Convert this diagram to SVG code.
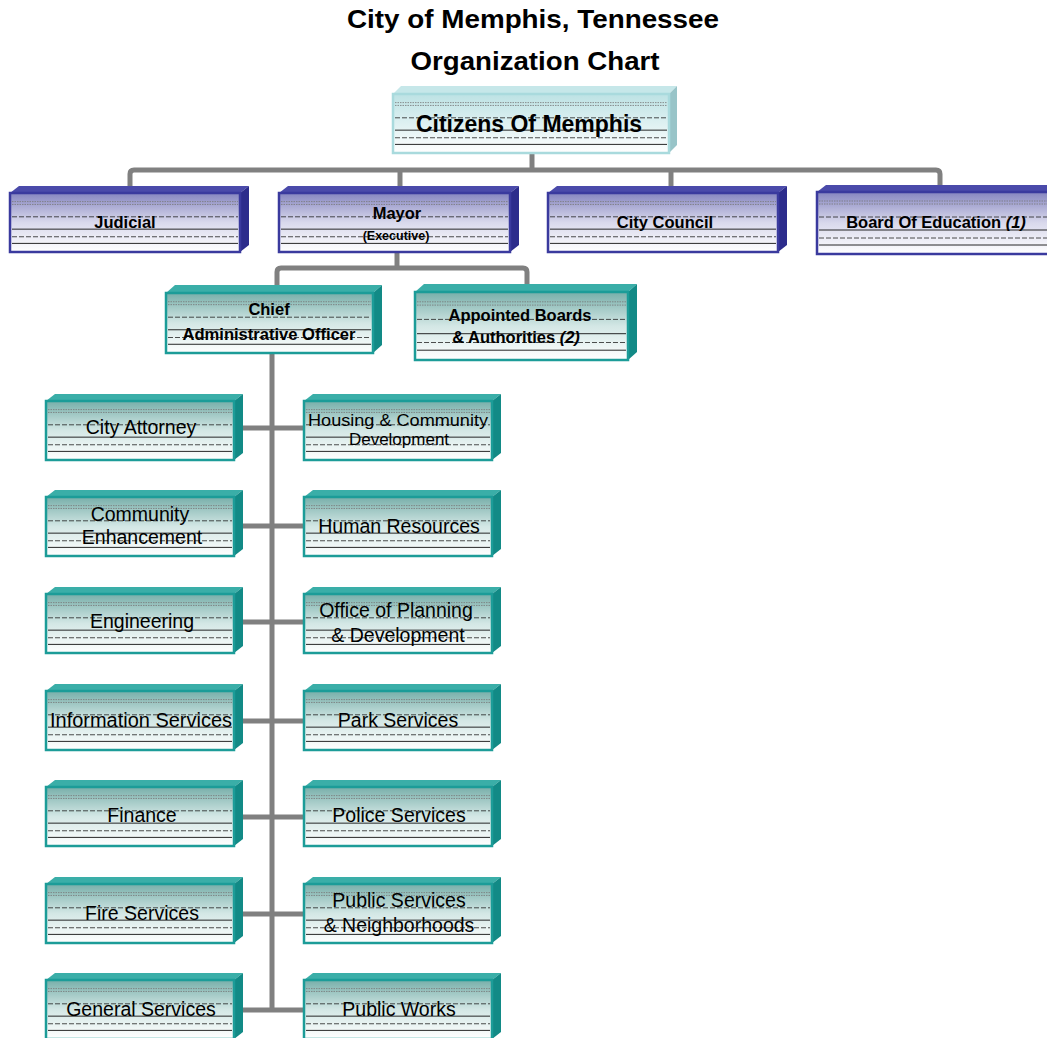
<svg xmlns="http://www.w3.org/2000/svg" xmlns:xlink="http://www.w3.org/1999/xlink" width="1047" height="1038" viewBox="0 0 1047 1038">
<style>
text{font-family:"Liberation Sans",Arial,sans-serif;fill:#000;text-anchor:middle}
.title{font-size:26px;font-weight:bold}
.b15{font-size:16.5px;font-weight:bold}
.b11{font-size:12.5px;font-weight:bold}
.n17{font-size:19.5px}
.n15{font-size:17px}
.it{font-style:italic}
.teal .top{fill:#3aaea8}
.teal .side{fill:#128a86}
.teal .front{fill:url(#gTeal);stroke:#1c9c98;stroke-width:2.5}
.blue .top{fill:#4a4aaa}
.blue .side{fill:#2c2c8c}
.blue .front{fill:url(#gBlue);stroke:#3a3a9e;stroke-width:2.5}
.cyan .top{fill:#c6e7e9}
.cyan .side{fill:#98c4c8}
.cyan .front{fill:url(#gCyan);stroke:#a9dadd;stroke-width:2.5}
.conn path{fill:none;stroke:#808080;stroke-width:5}
.dot{stroke:#777;stroke-width:0.8;stroke-dasharray:1.5 1;vector-effect:non-scaling-stroke}
.dsh{stroke:#222;stroke-width:0.8;stroke-dasharray:5 2;vector-effect:non-scaling-stroke}
.sol{stroke:#111;stroke-width:0.9;vector-effect:non-scaling-stroke}
</style>
<defs>
<linearGradient id="gTeal" x1="0" y1="0" x2="0" y2="1">
<stop offset="0" stop-color="#78afaa"/><stop offset="0.5" stop-color="#d3e7e5"/><stop offset="1" stop-color="#ffffff"/>
</linearGradient>
<linearGradient id="gBlue" x1="0" y1="0" x2="0" y2="1">
<stop offset="0" stop-color="#8686c0"/><stop offset="0.5" stop-color="#d9d9ec"/><stop offset="1" stop-color="#ffffff"/>
</linearGradient>
<linearGradient id="gCyan" x1="0" y1="0" x2="0" y2="1">
<stop offset="0" stop-color="#bde2e4"/><stop offset="1" stop-color="#ffffff"/>
</linearGradient>
<symbol id="rules" viewBox="0 0 100 60" preserveAspectRatio="none">
<line class="dot" x1="0" y1="8" x2="100" y2="8"/>
<line class="dot" x1="0" y1="11" x2="100" y2="11"/>
<line class="dsh" x1="0" y1="24" x2="100" y2="24"/>
<line class="sol" x1="0" y1="37" x2="100" y2="37"/>
<line class="dsh" x1="0" y1="45" x2="100" y2="45"/>
<line class="sol" x1="0" y1="52" x2="100" y2="52"/>
</symbol>
</defs>
<rect width="1047" height="1038" fill="#ffffff"/>
<g id="title">
<text class="title" x="533" y="28" textLength="372" lengthAdjust="spacingAndGlyphs">City of Memphis, Tennessee</text>
<text class="title" x="535" y="70" textLength="249" lengthAdjust="spacingAndGlyphs">Organization Chart</text>
</g>
<g id="connectors" class="conn">
<path d="M532,152 V170"/>
<path d="M130,188 V174 Q130,170 134,170 H936 Q940,170 940,174 V188"/>
<path d="M400,170 V188"/>
<path d="M671,170 V188"/>
<path d="M397,252 V268"/>
<path d="M277,288 V272 Q277,268 281,268 H523 Q527,268 527,272 V288"/>
<path d="M272,353 V1012"/>
<path d="M238,428 H306"/>
<path d="M238,526 H306"/>
<path d="M238,622 H306"/>
<path d="M238,721 H306"/>
<path d="M238,817 H306"/>
<path d="M238,914 H306"/>
<path d="M238,1010 H306"/>
</g>
<g id="citizens" class="cyan">
<polygon class="top" points="393,94 401,86 677,86 669,94"/>
<polygon class="side" points="669,94 677,86 677,145 669,153"/>
<rect class="front" x="393" y="94" width="276" height="59"/>
<use xlink:href="#rules" href="#rules" x="395" y="95" width="272" height="57"/>
<text x="529" y="132" style="font-size:23px;font-weight:bold">Citizens Of Memphis</text>
</g>
<g id="judicial" class="blue">
<polygon class="top" points="10,193 19,186 249,186 240,193"/>
<polygon class="side" points="240,193 249,186 249,245 240,252"/>
<rect class="front" x="10" y="193" width="230" height="59"/>
<use href="#rules" x="12" y="194" width="226" height="57"/>
<text class="b15" x="125" y="228">Judicial</text>
</g>
<g id="mayor" class="blue">
<polygon class="top" points="279,193 288,186 519,186 510,193"/>
<polygon class="side" points="510,193 519,186 519,245 510,252"/>
<rect class="front" x="279" y="193" width="231" height="59"/>
<use href="#rules" x="281" y="194" width="227" height="57"/>
<text class="b15" x="397" y="219">Mayor</text>
<text class="b11" x="396" y="240">(Executive)</text>
</g>
<g id="city-council" class="blue">
<polygon class="top" points="548,193 557,186 787,186 778,193"/>
<polygon class="side" points="778,193 787,186 787,245 778,252"/>
<rect class="front" x="548" y="193" width="230" height="59"/>
<use href="#rules" x="550" y="194" width="226" height="57"/>
<text class="b15" x="665" y="228">City Council</text>
</g>
<g id="board-of-education" class="blue">
<polygon class="top" points="817,192 826,185 1066,185 1057,192"/>
<rect class="front" x="817" y="192" width="240" height="62"/>
<use href="#rules" x="819" y="193" width="236" height="60"/>
<text class="b15" x="936" y="228">Board Of Education <tspan class="it">(1)</tspan></text>
</g>
<g id="cao" class="teal">
<polygon class="top" points="166,293 175,285 382,285 373,293"/>
<polygon class="side" points="373,293 382,285 382,345 373,353"/>
<rect class="front" x="166" y="293" width="207" height="60"/>
<use href="#rules" x="168" y="294" width="203" height="58"/>
<text class="b15" x="269" y="315">Chief</text>
<text class="b15" x="269" y="340" textLength="173" lengthAdjust="spacingAndGlyphs">Administrative Officer</text>
</g>
<g id="appointed-boards" class="teal">
<polygon class="top" points="415,292 424,284 637,284 628,292"/>
<polygon class="side" points="628,292 637,284 637,352 628,360"/>
<rect class="front" x="415" y="292" width="213" height="68"/>
<use href="#rules" x="417" y="293" width="209" height="66"/>
<text class="b15" x="520" y="321">Appointed Boards</text>
<text class="b15" x="516" y="343">&amp; Authorities <tspan class="it">(2)</tspan></text>
</g>
<g id="city-attorney" class="teal">
<polygon class="top" points="46,401 55,394 243,394 234,401"/>
<polygon class="side" points="234,401 243,394 243,453 234,460"/>
<rect class="front" x="46" y="401" width="188" height="59"/>
<use href="#rules" x="48" y="402" width="184" height="57"/>
<text class="n17" x="141" y="434">City Attorney</text>
</g>
<g id="community-enhancement" class="teal">
<polygon class="top" points="46,497 55,490 243,490 234,497"/>
<polygon class="side" points="234,497 243,490 243,549 234,556"/>
<rect class="front" x="46" y="497" width="188" height="59"/>
<use href="#rules" x="48" y="498" width="184" height="57"/>
<text class="n17" x="140" y="521">Community</text>
<text class="n17" x="142" y="544">Enhancement</text>
</g>
<g id="engineering" class="teal">
<polygon class="top" points="46,594 55,587 243,587 234,594"/>
<polygon class="side" points="234,594 243,587 243,646 234,653"/>
<rect class="front" x="46" y="594" width="188" height="59"/>
<use href="#rules" x="48" y="595" width="184" height="57"/>
<text class="n17" x="142" y="628">Engineering</text>
</g>
<g id="information-services" class="teal">
<polygon class="top" points="46,691 55,684 243,684 234,691"/>
<polygon class="side" points="234,691 243,684 243,743 234,750"/>
<rect class="front" x="46" y="691" width="188" height="59"/>
<use href="#rules" x="48" y="692" width="184" height="57"/>
<text class="n17" x="141" y="727" textLength="182" lengthAdjust="spacingAndGlyphs">Information Services</text>
</g>
<g id="finance" class="teal">
<polygon class="top" points="46,787 55,780 243,780 234,787"/>
<polygon class="side" points="234,787 243,780 243,839 234,846"/>
<rect class="front" x="46" y="787" width="188" height="59"/>
<use href="#rules" x="48" y="788" width="184" height="57"/>
<text class="n17" x="142" y="822">Finance</text>
</g>
<g id="fire-services" class="teal">
<polygon class="top" points="46,884 55,877 243,877 234,884"/>
<polygon class="side" points="234,884 243,877 243,936 234,943"/>
<rect class="front" x="46" y="884" width="188" height="59"/>
<use href="#rules" x="48" y="885" width="184" height="57"/>
<text class="n17" x="142" y="920">Fire Services</text>
</g>
<g id="general-services" class="teal">
<polygon class="top" points="46,980 55,973 243,973 234,980"/>
<polygon class="side" points="234,980 243,973 243,1032 234,1039"/>
<rect class="front" x="46" y="980" width="188" height="59"/>
<use href="#rules" x="48" y="981" width="184" height="57"/>
<text class="n17" x="141" y="1016">General Services</text>
</g>
<g id="housing" class="teal">
<polygon class="top" points="304,401 313,394 501,394 492,401"/>
<polygon class="side" points="492,401 501,394 501,453 492,460"/>
<rect class="front" x="304" y="401" width="188" height="59"/>
<use href="#rules" x="306" y="402" width="184" height="57"/>
<text class="n15" x="398" y="426" textLength="180" lengthAdjust="spacingAndGlyphs">Housing &amp; Community</text>
<text class="n15" x="399" y="445">Development</text>
</g>
<g id="human-resources" class="teal">
<polygon class="top" points="304,497 313,490 501,490 492,497"/>
<polygon class="side" points="492,497 501,490 501,549 492,556"/>
<rect class="front" x="304" y="497" width="188" height="59"/>
<use href="#rules" x="306" y="498" width="184" height="57"/>
<text class="n17" x="399" y="533">Human Resources</text>
</g>
<g id="planning" class="teal">
<polygon class="top" points="304,594 313,587 501,587 492,594"/>
<polygon class="side" points="492,594 501,587 501,646 492,653"/>
<rect class="front" x="304" y="594" width="188" height="59"/>
<use href="#rules" x="306" y="595" width="184" height="57"/>
<text class="n17" x="396" y="617">Office of Planning</text>
<text class="n17" x="398" y="642">&amp; Development</text>
</g>
<g id="park-services" class="teal">
<polygon class="top" points="304,691 313,684 501,684 492,691"/>
<polygon class="side" points="492,691 501,684 501,743 492,750"/>
<rect class="front" x="304" y="691" width="188" height="59"/>
<use href="#rules" x="306" y="692" width="184" height="57"/>
<text class="n17" x="398" y="727">Park Services</text>
</g>
<g id="police-services" class="teal">
<polygon class="top" points="304,787 313,780 501,780 492,787"/>
<polygon class="side" points="492,787 501,780 501,839 492,846"/>
<rect class="front" x="304" y="787" width="188" height="59"/>
<use href="#rules" x="306" y="788" width="184" height="57"/>
<text class="n17" x="399" y="822">Police Services</text>
</g>
<g id="public-services" class="teal">
<polygon class="top" points="304,884 313,877 501,877 492,884"/>
<polygon class="side" points="492,884 501,877 501,936 492,943"/>
<rect class="front" x="304" y="884" width="188" height="59"/>
<use href="#rules" x="306" y="885" width="184" height="57"/>
<text class="n17" x="399" y="907">Public Services</text>
<text class="n17" x="399" y="932">&amp; Neighborhoods</text>
</g>
<g id="public-works" class="teal">
<polygon class="top" points="304,980 313,973 501,973 492,980"/>
<polygon class="side" points="492,980 501,973 501,1032 492,1039"/>
<rect class="front" x="304" y="980" width="188" height="59"/>
<use href="#rules" x="306" y="981" width="184" height="57"/>
<text class="n17" x="399" y="1016">Public Works</text>
</g>
</svg>
